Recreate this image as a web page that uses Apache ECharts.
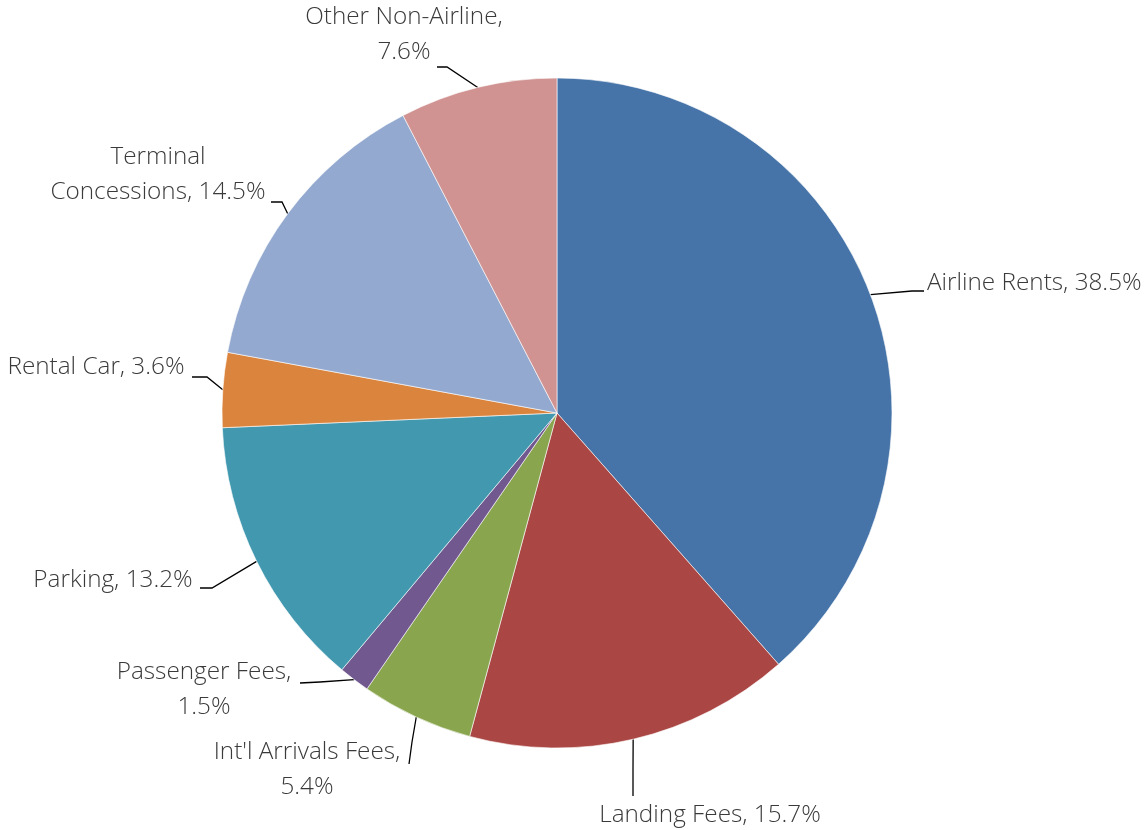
<!DOCTYPE html>
<html>
<head>
<meta charset="utf-8">
<script src="https://cdn.jsdelivr.net/npm/echarts@6/dist/echarts.min.js"></script>
<style>
  html, body { margin: 0; padding: 0; background: #fff; }
  #chart { width: 1148px; height: 830px; }
</style>
</head>
<body>
<div id="chart"></div>
<script>
// revenue share by source (%)
const categories = ['Airline Rents', 'Landing Fees', "Int'l Arrivals Fees", 'Passenger Fees',
  'Parking', 'Rental Car', 'Terminal Concessions', 'Other Non-Airline'];
const shares = [38.5, 15.7, 5.4, 1.5, 13.2, 3.6, 14.5, 7.6];
const colors = ['#4674A8', '#AA4744', '#89A54E', '#71588F', '#4198AF', '#DB843D', '#93A9CF', '#D09392'];

// pie geometry
const CX = 557, CY = 413, R = 335;

// label placement: anchor, alignment, leader line bend + end, optional edge angle (deg from top)
const labelPos = [
  { x: 927, y: 283, align: 'left', m: [912, 291], e: [924, 291] },
  { x: 710, y: 815, align: 'center', m: [633, 770], e: [633, 796] },
  { x: 307, y: 770, align: 'center', m: [412, 742], e: [409, 764] },
  { x: 204, y: 690, align: 'center', m: [320, 682], e: [300, 683] },
  { x: 113, y: 580, align: 'center', m: [212, 588], e: [200, 588] },
  { x: 96, y: 367, align: 'center', m: [207, 377], e: [192, 377] },
  { x: 158, y: 175, align: 'center', m: [282, 202], e: [271, 202], edge: 306.5 },
  { x: 404, y: 35, align: 'center', m: [447, 67], e: [437, 67] }
];

function labelText(name, val) {
  const pct = val.toFixed(1) + '%';
  if (name === 'Terminal Concessions') return 'Terminal\nConcessions, ' + pct;
  if (name === "Int'l Arrivals Fees" || name === 'Passenger Fees' || name === 'Other Non-Airline') {
    return name + ',\n' + pct;
  }
  return name + ', ' + pct;
}

const chart = echarts.init(document.getElementById('chart'), null, { renderer: 'canvas' });

chart.setOption({
  backgroundColor: '#fff',
  animation: false,
  series: [{
    type: 'pie',
    center: [CX, CY],
    radius: R,
    startAngle: 90,
    clockwise: true,
    avoidLabelOverlap: false,
    data: categories.map((c, i) => ({ name: c, value: shares[i], itemStyle: { color: colors[i] } })),
    itemStyle: { borderColor: '#fff', borderWidth: 0.6 },
    label: {
      show: true,
      formatter: p => labelText(p.name, p.value),
      fontFamily: 'Open Sans',
      fontWeight: 300,
      fontSize: 24.3,
      color: '#3a3a3a',
      lineHeight: 35,
      align: 'center'
    },
    labelLine: {
      show: true,
      length: 20,
      length2: 10,
      lineStyle: { color: '#000', width: 1.3 }
    },
    labelLayout: function (params) {
      const p = labelPos[params.dataIndex];
      let start = params.labelLinePoints ? params.labelLinePoints[0] : p.m;
      if (p.edge !== undefined) {
        const a = p.edge * Math.PI / 180;
        start = [CX + R * Math.sin(a), CY - R * Math.cos(a)];
      }
      return {
        x: p.x,
        y: p.y,
        align: p.align,
        verticalAlign: 'middle',
        labelLinePoints: [start, p.m, p.e]
      };
    }
  }]
});
</script>
</body>
</html>
